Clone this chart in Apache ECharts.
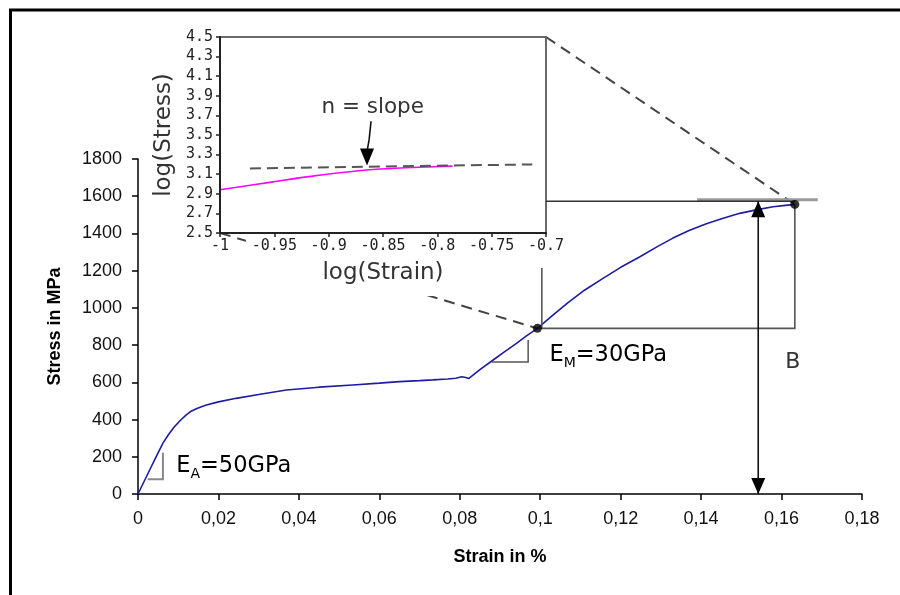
<!DOCTYPE html>
<html><head><meta charset="utf-8">
<script src="https://cdn.jsdelivr.net/npm/echarts@6/dist/echarts.min.js"></script>
<style>html,body{margin:0;padding:0;background:#fff}#c{width:900px;height:595px}</style>
</head><body><div id="c"></div>
<script>
// ---- main stress-strain curve ----
const strain = [0, 0.0029, 0.0045, 0.0062, 0.0076, 0.0090, 0.0105, 0.0120, 0.0132, 0.0145, 0.0158, 0.0170, 0.0200, 0.0244, 0.0300, 0.0369, 0.0450, 0.0534, 0.0600, 0.0650, 0.0700, 0.0733, 0.0770, 0.0790, 0.0805, 0.0815, 0.0822, 0.0850, 0.0883, 0.0910, 0.0941, 0.0965, 0.0993, 0.1030, 0.1070, 0.1110, 0.1157, 0.1200, 0.1248, 0.1290, 0.1330, 0.1370, 0.1413, 0.1455, 0.1496, 0.1540, 0.1579, 0.1610, 0.1633];
const stress = [0, 129, 200, 273, 320, 360, 395, 425, 445, 458, 469, 478, 495, 514, 535, 559, 574, 586, 596, 604, 609, 613, 618, 622, 630, 626, 620, 668, 720, 762, 809, 848, 890, 958, 1030, 1095, 1160, 1218, 1275, 1328, 1375, 1416, 1452, 1482, 1508, 1528, 1543, 1551, 1556];
const xTickLabels = ['0','0,02','0,04','0,06','0,08','0,1','0,12','0,14','0,16','0,18'];
const yTickLabels = ['0','200','400','600','800','1000','1200','1400','1600','1800'];

// ---- inset (log-log) ----
const logStrain = [-1, -0.951, -0.920, -0.890, -0.859, -0.829, -0.786];
const logStress = [2.941, 3.022, 3.073, 3.114, 3.148, 3.166, 3.182];
const slopeLineX = [-0.9725, -0.7126];
const slopeLineY = [3.159, 3.200];
const insetXTicks = ['-1','-0.95','-0.9','-0.85','-0.8','-0.75','-0.7'];
const insetYTicks = ['2.5','2.7','2.9','3.1','3.3','3.5','3.7','3.9','4.1','4.3','4.5'];

// ---- annotation anchors (data units) ----
const pointM = [0.0993, 890];
const pointB = [0.1633, 1556];
const slopeA = [[0.0024, 79], [0.0062, 79], [0.0062, 222]];
const slopeM = [[0.0879, 709], [0.0970, 709], [0.0970, 827]];
const arrowX = 0.1542, arrowTop = 1573;
const topLineY = 1573;
const tangentY = 1581, tangentX = [0.139, 0.169];
const markMTop = 1215, markMX = 0.1004;
const insetArrow = [[-0.861, 3.64], [-0.8628, 3.45], [-0.8647, 3.19]];

const chart = echarts.init(document.getElementById('c'));
const FONT = 'Liberation Sans';
const option = {
  animation: false,
  backgroundColor: '#fff',
  grid: [
    {left: 138, right: 38, top: 159, bottom: 101},
    {left: 220, top: 37, width: 326, height: 196, show: true, backgroundColor: '#fff', borderColor: '#6a6a6a', borderWidth: 2, z: 3}
  ],
  xAxis: [
    {gridIndex: 0, type: 'value', min: 0, max: 0.18, interval: 0.02,
     axisLine: {lineStyle: {color: '#000', width: 1.5}},
     axisTick: {length: 6, lineStyle: {color: '#000', width: 1.5}},
     splitLine: {show: false},
     axisLabel: {fontSize: 18, color: '#111', fontFamily: FONT, margin: 16,
       formatter: v => xTickLabels[Math.round(v / 0.02)]},
     name: 'Strain in %', nameLocation: 'middle', nameGap: 54,
     nameTextStyle: {fontFamily: FONT, fontWeight: 'bold', fontSize: 18, color: '#000'}},
    {gridIndex: 1, type: 'value', min: -1, max: -0.7, interval: 0.05, z: 10,
     axisLine: {onZero: false, lineStyle: {color: '#222', width: 2}},
     axisTick: {length: 4, lineStyle: {color: '#222', width: 1.5}},
     splitLine: {show: false},
     axisLabel: {fontSize: 15, color: '#222', fontFamily: 'DejaVu Sans Mono', margin: 6,
       formatter: v => insetXTicks[Math.round((v + 1) / 0.05)]},
     name: 'log(Strain)', nameLocation: 'middle', nameGap: 29,
     nameTextStyle: {fontFamily: 'DejaVu Sans', fontSize: 23, color: '#333'}}
  ],
  yAxis: [
    {gridIndex: 0, type: 'value', min: 0, max: 1800, interval: 200,
     axisLine: {show: true, lineStyle: {color: '#000', width: 1.5}},
     axisTick: {show: true, length: 6, lineStyle: {color: '#000', width: 1.5}},
     splitLine: {show: false},
     axisLabel: {fontSize: 18, color: '#111', fontFamily: FONT, margin: 16,
       formatter: v => yTickLabels[Math.round(v / 200)]},
     name: 'Stress in MPa', nameLocation: 'middle', nameGap: 74, nameRotate: 90,
     nameTextStyle: {fontFamily: FONT, fontWeight: 'bold', fontSize: 18, color: '#000'}},
    {gridIndex: 1, type: 'value', min: 2.5, max: 4.5, interval: 0.2, z: 10,
     axisLine: {show: true, onZero: false, lineStyle: {color: '#222', width: 2}},
     axisTick: {show: true, length: 4, lineStyle: {color: '#222', width: 1.5}},
     splitLine: {show: false},
     axisLabel: {fontSize: 15, color: '#222', fontFamily: 'DejaVu Sans Mono', margin: 7,
       formatter: v => insetYTicks[Math.round((v - 2.5) / 0.2)]},
     name: 'log(Stress)', nameLocation: 'middle', nameGap: 44, nameRotate: 90,
     nameTextStyle: {fontFamily: 'DejaVu Sans', fontSize: 23, color: '#333'}}
  ],
  series: [
    {type: 'line', xAxisIndex: 0, yAxisIndex: 0, data: strain.map((s, i) => [s, stress[i]]),
     showSymbol: false, smooth: false, lineStyle: {color: '#1c1ca4', width: 1.6}, z: 3},
    {type: 'scatter', xAxisIndex: 0, yAxisIndex: 0, data: [pointM, pointB],
     symbolSize: 9, itemStyle: {color: '#000'}, z: 8},
    {type: 'line', xAxisIndex: 1, yAxisIndex: 1, data: logStrain.map((s, i) => [s, logStress[i]]),
     showSymbol: false, smooth: 0.3, lineStyle: {color: '#ff00ff', width: 1.6}, z: 6},
    {type: 'line', xAxisIndex: 1, yAxisIndex: 1, data: slopeLineX.map((s, i) => [s, slopeLineY[i]]),
     showSymbol: false, lineStyle: {color: '#555', width: 2, type: [11, 6]}, z: 6}
  ]
};
chart.setOption(option);

const P0 = p => chart.convertToPixel({gridIndex: 0}, p);
const P1 = p => chart.convertToPixel({gridIndex: 1}, p);
const g = [];
function poly(pts, color, width, z, dash) {
  g.push({type: 'polyline', silent: true, z: z || 5,
    shape: {points: pts},
    style: {fill: null, stroke: color, lineWidth: width, lineDash: dash || null}});
}
function head(tip, dir, w, h, z) {
  g.push({type: 'polygon', silent: true, z: z || 7,
    shape: {points: [tip, [tip[0] - w / 2, tip[1] - dir * h], [tip[0] + w / 2, tip[1] - dir * h]]},
    style: {fill: '#000'}});
}
function subText(pos, main, sub, rest) {
  g.push({type: 'text', silent: true, z: 9, x: pos[0], y: pos[1],
    style: {text: '{e|' + main + '}{s|' + sub + '}{e|' + rest + '}', align: 'left', verticalAlign: 'middle',
      rich: {e: {fontFamily: 'DejaVu Sans', fontSize: 22.5, color: '#333', lineHeight: 30, verticalAlign: 'middle'},
             s: {fontFamily: 'DejaVu Sans', fontSize: 14, color: '#333', lineHeight: 30, verticalAlign: 'bottom'}}}});
}

// frame
g.push({type: 'line', silent: true, z: 20, shape: {x1: 9, y1: 10, x2: 900, y2: 10}, style: {stroke: '#000', lineWidth: 3}});
g.push({type: 'line', silent: true, z: 20, shape: {x1: 10.5, y1: 9, x2: 10.5, y2: 595}, style: {stroke: '#000', lineWidth: 3}});

// connectors from inset to main curve
const inBL = P1([-1, 2.5]), inTR = P1([-0.7, 4.5]);
const pm = P0(pointM), pb = P0(pointB);
poly([inBL, pm], '#444', 2, 2, [11, 7]);
poly([inTR, pb], '#444', 2, 2, [11, 7]);
// white area below inset (covers connector behind labels)
g.push({type: 'rect', silent: true, z: 2.5, shape: {x: inBL[0] + 26, y: inBL[1] + 3, width: 200, height: 60}, style: {fill: '#fff'}});

// slope triangles
poly(slopeA.map(P0), '#888', 2, 5);
poly(slopeM.map(P0), '#555', 1.5, 5);
// box around top segment
poly([pm, P0([pointB[0], pointM[1]]), pb], '#555', 1.6, 5);
poly([P0([markMX, pointM[1]]), P0([markMX, markMTop])], '#555', 1.6, 5);
poly([[inTR[0], P0([0, topLineY])[1]], P0([pointB[0], topLineY])], '#333', 1.6, 5);
// tangent
poly([P0([tangentX[0], tangentY]), P0([tangentX[1], tangentY])], '#999', 3, 4);
// double arrow
const aT = P0([arrowX, arrowTop]), aB = P0([arrowX, 0]);
poly([aT, aB], '#111', 1.6, 6);
head(aT, -1, 14, 16);
head(aB, 1, 14, 16);
// inset arrow
const ia = insetArrow.map(P1);
poly([ia[0], ia[1], [ia[2][0], ia[2][1] - 14]], '#111', 1.6, 7);
head(ia[2], 1, 14, 17);

// texts
subText(P0([0.0095, 150]), 'E', 'A', '=50GPa');
subText(P0([0.1023, 747]), 'E', 'M', '=30GPa');
const bp = P0([0.1628, 710]);
g.push({type: 'text', silent: true, z: 9, x: bp[0], y: bp[1], style: {text: 'B', fontFamily: 'DejaVu Sans', fontSize: 22, fill: '#333', align: 'center', verticalAlign: 'middle'}});
const np = P1([-0.8595, 3.783]);
g.push({type: 'text', silent: true, z: 9, x: np[0], y: np[1], style: {text: 'n = slope', fontFamily: 'DejaVu Sans', fontSize: 21.5, fill: '#333', align: 'center', verticalAlign: 'middle'}});

chart.setOption({graphic: {elements: g}});
</script></body></html>
